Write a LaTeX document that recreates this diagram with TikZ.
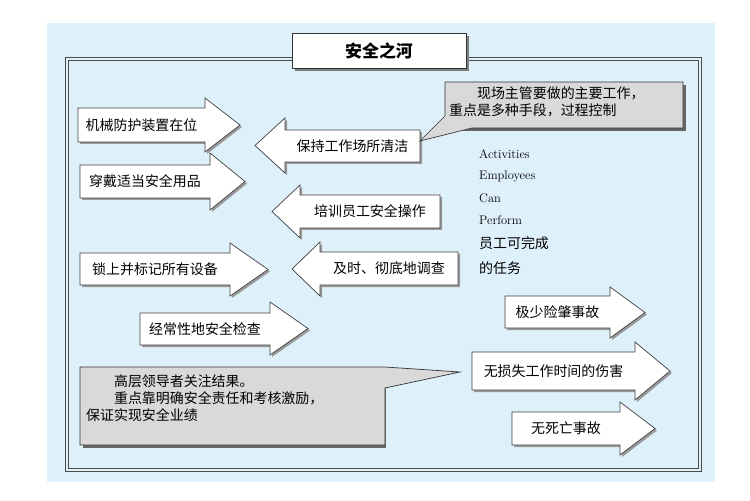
\documentclass[tikz,border=0pt]{standalone}
\usepackage{fontspec}
\newfontfamily\cjk{Noto Sans CJK SC}
\definecolor{bgblue}{RGB}{222,240,250}
\begin{document}
\begin{tikzpicture}[x=1bp,y=-1bp,
  arr/.style={draw=black!75,fill=white,line width=0.7bp},
  callout/.style={draw=black!80,fill=black!15,line width=0.7bp},
  lab/.style={font=\cjk\fontsize{14}{17}\selectfont,inner sep=0pt},
  eng/.style={font=\fontsize{12.5}{14}\selectfont,anchor=west,inner sep=0pt}]
\newcommand\rarr[9]{%
  \fill[black!40] ({#2+2},{#4+2})--({#3+2},{#4+2})--({#3+2},{#7+2})--({#6+2},{(#7+#8)/2+2})--({#3+2},{#8+2})--({#3+2},{#5+2})--({#2+2},{#5+2})--cycle;
  \draw[arr] (#2,#4)--(#3,#4)--(#3,#7)--(#6,{(#7+#8)/2})--(#3,#8)--(#3,#5)--(#2,#5)--cycle;
  \node[lab] (#1) at ({(#2+#3)/2},{(#4+#5)/2}) {#9};}
\newcommand\larr[9]{%
  \fill[black!40] ({#2+2},{#4+2})--({#3+2},{#4+2})--({#3+2},{#5+2})--({#2+2},{#5+2})--({#2+2},{#8+2})--({#6+2},{(#7+#8)/2+2})--({#2+2},{#7+2})--cycle;
  \draw[arr] (#2,#4)--(#3,#4)--(#3,#5)--(#2,#5)--(#2,#8)--(#6,{(#7+#8)/2})--(#2,#7)--cycle;
  \node[lab] (#1) at ({(#2+#3)/2},{(#4+#5)/2}) {#9};}
\useasboundingbox (0,0) rectangle (750,501);
\fill[white] (0,0) rectangle (750,501);
\fill[bgblue] (47,23) rectangle (715,482);
\draw[black!70,line width=0.9bp] (65,57) rectangle (701,471);
\draw[black!70,line width=0.9bp] (68,60) rectangle (698,468);
\fill[black!50] (295,36) rectangle (469,71);
\node[draw=black!80,fill=white,line width=0.7bp,minimum width=174bp,minimum height=35bp,inner sep=0pt,font=\cjk\bfseries\fontsize{17}{19}\selectfont] (title) at (379,50.5) {安全之河};
% right arrows left side
\rarr{a1}{78}{205}{108}{142}{240}{98}{152}{机械防护装置在位}
\rarr{a2}{80}{210}{165}{198}{245}{153}{210}{穿戴适当安全用品}
\rarr{a3}{80}{230}{253}{285}{268}{243}{296}{锁上并标记所有设备}
\rarr{a4}{140}{270}{313}{345}{308}{302}{355}{经常性地安全检查}
% left arrows
\larr{l1}{285}{420}{130}{162}{255}{118}{173}{保持工作场所清洁}
\larr{l2}{300}{440}{195}{228}{272}{185}{238}{培训员工安全操作}
\larr{l3}{320}{458}{252}{285}{292}{242}{296}{及时、彻底地调查}
% right arrows right side
\rarr{r1}{505}{610}{296}{328}{645}{287}{338}{极少险肇事故}
\rarr{r2}{472}{635}{352}{390}{670}{342}{400}{无损失工作时间的伤害}
\rarr{r3}{512}{620}{412}{445}{655}{402}{455}{无死亡事故}
% top callout
\fill[black!60] (448,85) rectangle (686,131);
\draw[callout] (445,82)--(683,82)--(683,128)--(472,128)--(420,141)--(445,116)--cycle;
\node[lab,align=left,anchor=north west] (c1) at (449,87) {\hspace*{2em}现场主管要做的主要工作，\\重点是多种手段，过程控制};
% english text
\node[eng] (e1) at (479,154) {Activities};
\node[eng] (e2) at (479,176) {Employees};
\node[eng] (e3) at (479,198) {Can};
\node[eng] (e4) at (479,220) {Perform};
\node[lab,anchor=west] (e5) at (479,243) {员工可完成};
\node[lab,anchor=west] (e6) at (479,268) {的任务};
% bottom callout
\fill[black!60] (83,370) rectangle (386,448);
\draw[callout] (80,367)--(385,367)--(460,372)--(385,388)--(385,445)--(80,445)--cycle;
\node[lab,align=left,anchor=north west] (c2) at (86,375) {\hspace*{2em}高层领导者关注结果。\\\hspace*{2em}重点靠明确安全责任和考核激励，\\保证实现安全业绩};
\end{tikzpicture}
\end{document}
